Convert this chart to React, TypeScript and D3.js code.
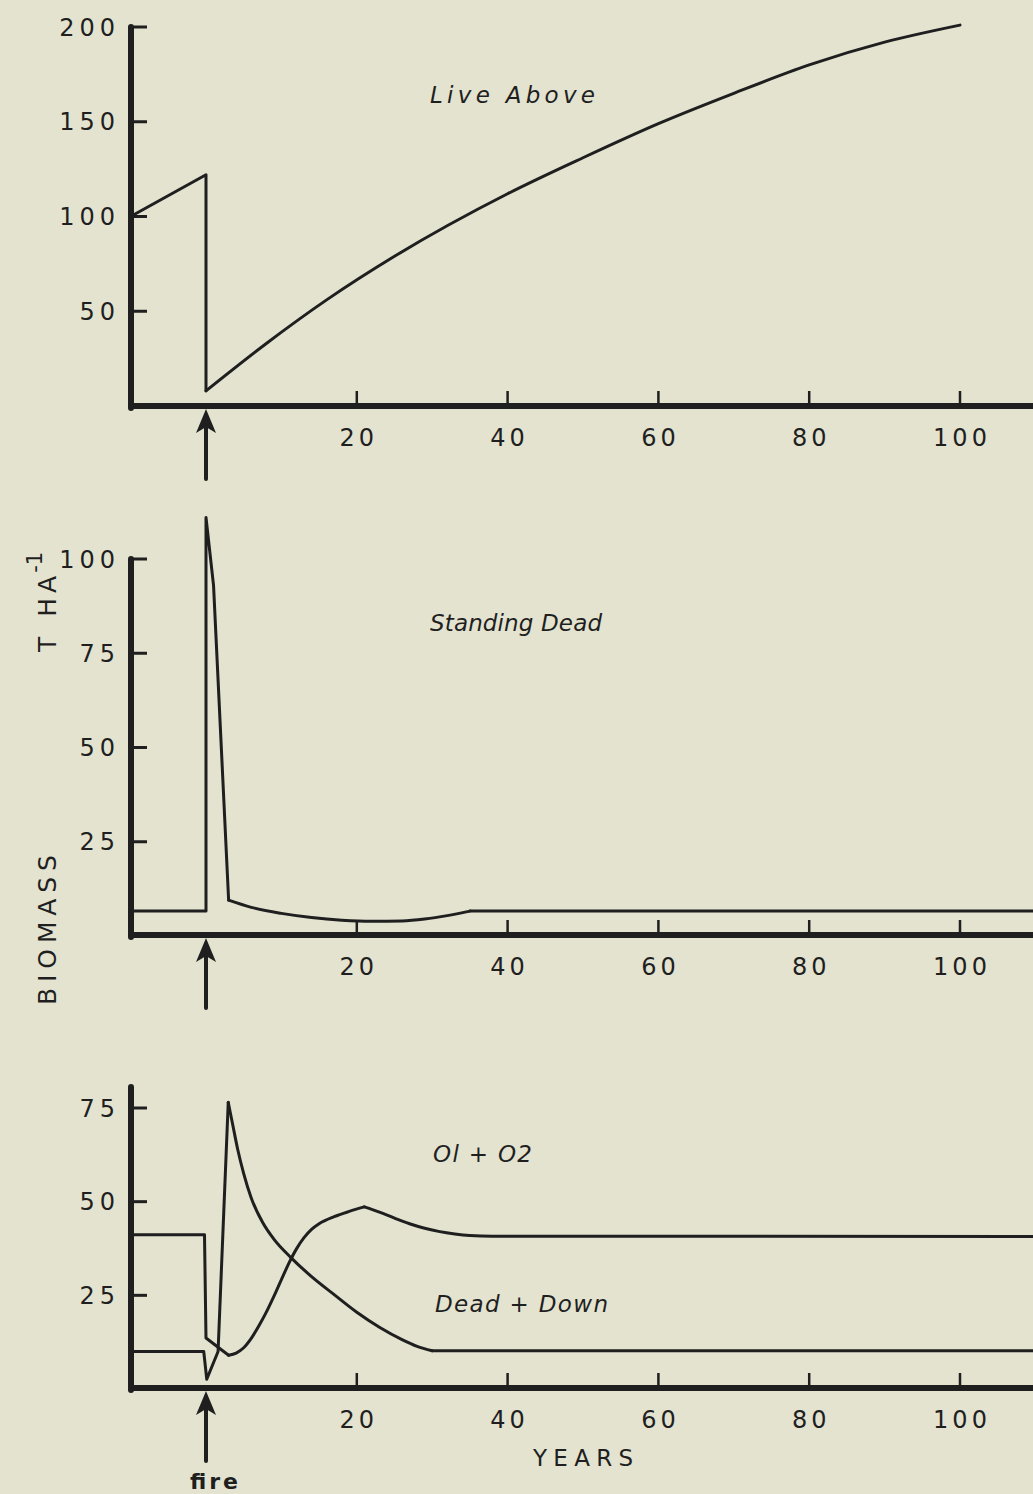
import React from 'react'
import * as d3 from 'd3'

type Pt = [number, number]

// tick values
const yearTicks = [20, 40, 60, 80, 100]
const liveTicks = [50, 100, 150, 200]
const deadTicks = [25, 50, 75, 100]
const floorTicks = [25, 50, 75]

// Live Above (t/ha) - fire at year 0
const liveBefore: Pt[] = [[-10, 100], [0, 122], [0, 8]]
const liveRegrowth: Pt[] = [[0, 8], [8, 33], [16, 56], [25, 79], [40, 112], [50, 131], [60, 149], [70, 165], [80, 180], [90, 192], [100, 201]]

// Standing Dead
const deadBefore: Pt[] = [[-10, 6.6], [0, 6.6], [0, 111], [1, 93], [3, 9.5]]
const deadAfter: Pt[] = [[3, 9.5], [6, 7.6], [10, 6], [14, 4.9], [18, 4.2], [22, 3.9], [26, 4], [29, 4.5], [32, 5.4], [35, 6.6]]
const deadFlat: Pt[] = [[35, 6.6], [110, 6.6]]

// Ol + O2 (forest floor)
const floorBefore: Pt[] = [[-10, 41.2], [-0.2, 41.2], [0, 13.6], [3, 9]]
const floorRise: Pt[] = [[3, 9], [4, 9.6], [5, 11], [6, 13.5], [7, 16.8], [8, 20.5], [9, 24.7], [10, 29.2], [11, 33.6], [12, 37.4], [13, 40.4], [14, 42.6], [15, 44.1], [17, 46], [19, 47.4], [21, 48.6]]
const floorSettle: Pt[] = [[21, 48.6], [23, 47.2], [25, 45.6], [27, 44.1], [29, 42.9], [31, 42], [33, 41.4], [35, 41], [38, 40.8], [110, 40.7]]

// Dead + Down
const downBefore: Pt[] = [[-10, 10], [-0.3, 10], [0.1, 2.6], [1.6, 10], [2.95, 76.5]]
const downDecay: Pt[] = [[2.95, 76.5], [3.5, 71], [4.2, 64], [5, 57.5], [6, 51], [7.5, 44.5], [9, 40], [11.3, 35], [14, 30], [17, 25.2], [20, 20.5], [23, 16.5], [26, 13.2], [28, 11.4], [30, 10.2]]
const downFlat: Pt[] = [[30, 10.2], [110, 10.2]]

const ink = '#1f1f1f'
const paper = '#e3e3d0'
const font = '"DejaVu Sans", sans-serif'

const x = d3.scaleLinear().domain([0, 100]).range([206, 960])
const axisX = 131

const panels = [
  {
    y: d3.scaleLinear().domain([0, 200]).range([406, 27]),
    base: 406, top: 27, ticks: liveTicks,
    segs: [[liveBefore, false], [liveRegrowth, true]] as [Pt[], boolean][],
    labels: [{ text: 'Live Above', x: 430, y: 103, w: 165 }],
  },
  {
    y: d3.scaleLinear().domain([0, 100]).range([936, 559]),
    base: 935, top: 559, ticks: deadTicks,
    segs: [[deadBefore, false], [deadAfter, true], [deadFlat, false]] as [Pt[], boolean][],
    labels: [{ text: 'Standing Dead', x: 430, y: 631, w: 172 }],
  },
  {
    y: d3.scaleLinear().domain([0, 75]).range([1389, 1108]),
    base: 1388, top: 1087, ticks: floorTicks,
    segs: [[floorBefore, false], [floorRise, true], [floorSettle, true], [downBefore, false], [downDecay, true], [downFlat, false]] as [Pt[], boolean][],
    labels: [
      { text: 'Ol + O2', x: 433, y: 1162, w: 99 },
      { text: 'Dead + Down', x: 435, y: 1312, w: 173 },
    ],
  },
]

const Panel = ({ p }: { p: typeof panels[number] }) => {
  const straight = d3.line<Pt>().x(d => x(d[0])).y(d => p.y(d[1]))
  const smooth = d3.line<Pt>().x(d => x(d[0])).y(d => p.y(d[1])).curve(d3.curveMonotoneX)
  const fx = x(0)
  const b = p.base
  return (
    <g>
      {/* axes */}
      <line x1={axisX} x2={axisX} y1={p.top} y2={b + 2} stroke={ink} strokeWidth={6} strokeLinecap="round" />
      <line x1={axisX - 2} x2={1040} y1={b} y2={b} stroke={ink} strokeWidth={6} />
      {p.ticks.map(t => (
        <g key={'y' + t}>
          <line x1={axisX} x2={axisX + 16} y1={p.y(t)} y2={p.y(t)} stroke={ink} strokeWidth={3} />
          <text x={120} y={p.y(t)} dy="0.36em" textAnchor="end" fontFamily={font} fontSize={24}
            letterSpacing={5} fill={ink}>{t}</text>
        </g>
      ))}
      {yearTicks.map(t => (
        <g key={'x' + t}>
          <line x1={x(t)} x2={x(t)} y1={b} y2={b - 15} stroke={ink} strokeWidth={2.5} />
          <text x={x(t) + 2} y={b + 40} textAnchor="middle" fontFamily={font} fontSize={24}
            letterSpacing={4} fill={ink}>{t}</text>
        </g>
      ))}

      {/* series */}
      {p.segs.map(([pts, isSmooth], i) => (
        <path key={i} d={(isSmooth ? smooth : straight)(pts) || ''} fill="none" stroke={ink}
          strokeWidth={3} strokeLinejoin="round" strokeLinecap="round" />
      ))}

      {/* fire arrow */}
      <path d={`M${fx},${b + 3} L${fx - 10},${b + 27} L${fx},${b + 21} L${fx + 10},${b + 27} Z`} fill={ink} />
      <line x1={fx} x2={fx} y1={b + 20} y2={b + 73} stroke={ink} strokeWidth={4} strokeLinecap="round" />

      {p.labels.map(l => (
        <text key={l.text} x={l.x} y={l.y} fontFamily={font} fontStyle="italic" fontSize={23}
          textLength={l.w} lengthAdjust="spacing" fill={ink}>{l.text}</text>
      ))}
    </g>
  )
}

export default function App() {
  return (
    <svg width={1033} height={1494} style={{ position: 'absolute', left: 0, top: 0, display: 'block' }}>
      <rect width={1033} height={1494} fill={paper} />
      {panels.map((p, i) => <Panel key={i} p={p} />)}

      {/* y title */}
      <text transform="translate(56,930) rotate(-90)" textAnchor="middle" fontFamily={font} fontSize={25}
        textLength={150} lengthAdjust="spacing" fill={ink}>BIOMASS</text>
      <text transform="translate(56,652) rotate(-90)" fontFamily={font} fontSize={25} fill={ink}>
        <tspan>T</tspan>
        <tspan dx={20} letterSpacing={5}>HA</tspan>
        <tspan dy={-14} dx={-2} fontSize={21}>-1</tspan>
      </text>

      <text x={533} y={1466} fontFamily={font} fontSize={23} textLength={100} lengthAdjust="spacing" fill={ink}>YEARS</text>
      <text x={190} y={1489} fontFamily={font} fontSize={22} fontWeight="bold" textLength={48} lengthAdjust="spacing" fill={ink}>fire</text>
    </svg>
  )
}
